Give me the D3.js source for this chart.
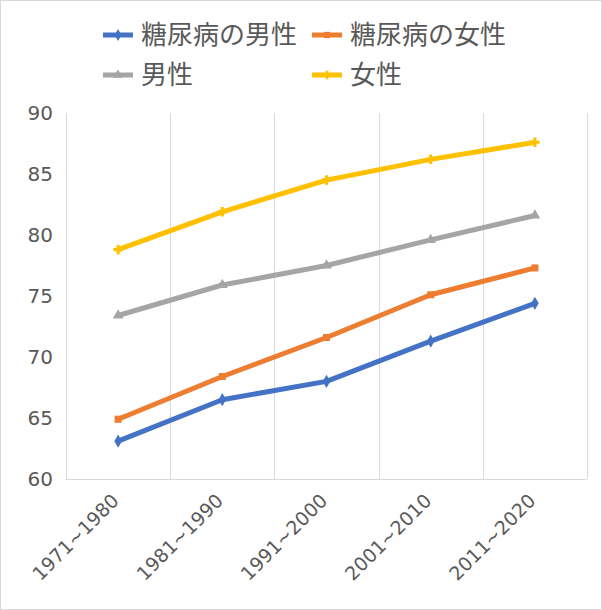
<!DOCTYPE html>
<meta charset="utf-8">
<style>
  body { margin: 0; background: #fff; }
  svg { display: block; }
  text { font-family: "DejaVu Sans", sans-serif; fill: #595959; }
  .jp { font-family: "Noto Sans CJK JP", sans-serif; }
</style>
<body>
<svg width="602" height="610"></svg>
<script src="https://d3js.org/d3.v7.min.js"></script>
<script>
// data
var periods = ["1971~1980", "1981~1990", "1991~2000", "2001~2010", "2011~2020"]
var seriesNames = ["糖尿病の男性", "糖尿病の女性", "男性", "女性"]
var dmMale = [63.1, 66.5, 68.0, 71.3, 74.4]
var dmFemale = [64.9, 68.4, 71.6, 75.1, 77.3]
var male = [73.4, 75.9, 77.5, 79.6, 81.6]
var female = [78.8, 81.9, 84.5, 86.2, 87.6]
var yTicks = [60, 65, 70, 75, 80, 85, 90]

var colors = ["#4472c4", "#ed7d31", "#a5a5a5", "#ffc000"]
var symbols = [d3.symbolDiamond, d3.symbolSquare, d3.symbolTriangle, d3.symbolCross]
var allSeries = [dmMale, dmFemale, male, female]

var svg = d3.select('svg')

// chart border
svg.append('rect')
  .attr('x', 0.5).attr('y', 0.5)
  .attr('width', 601).attr('height', 609)
  .attr('fill', 'none').attr('stroke', '#d9d9d9')

var plotLeft = 66, plotRight = 587, plotTop = 113, plotBottom = 479

var x = d3.scaleBand().domain(periods).range([plotLeft, plotRight])
var y = d3.scaleLinear().domain([60, 90]).range([plotBottom, plotTop])

// vertical gridlines at category boundaries
var g = svg.append('g')
var bounds = periods.map(function (p) { return x(p) + x.bandwidth() }).concat([plotLeft])
g.selectAll('line.grid')
  .data(bounds)
  .enter().append('line')
  .attr('x1', function (d) { return Math.round(d) + 0.5 })
  .attr('x2', function (d) { return Math.round(d) + 0.5 })
  .attr('y1', plotTop).attr('y2', plotBottom)
  .attr('stroke', '#d9d9d9')

// bottom axis line
g.append('line')
  .attr('x1', plotLeft).attr('x2', plotRight)
  .attr('y1', plotBottom + 0.5).attr('y2', plotBottom + 0.5)
  .attr('stroke', '#d9d9d9')

// y tick labels
g.selectAll('text.ytick')
  .data(yTicks)
  .enter().append('text')
  .attr('x', 53)
  .attr('y', function (d) { return y(d) })
  .attr('dy', '0.36em')
  .attr('text-anchor', 'end')
  .attr('font-size', 20)
  .text(function (d) { return d })

// x tick labels, rotated
g.selectAll('text.xtick')
  .data(periods)
  .enter().append('text')
  .attr('transform', function (d) {
    var cx = x(d) + x.bandwidth() / 2
    return 'translate(' + (cx + 2) + ',' + (plotBottom + 23) + ') rotate(-45)'
  })
  .attr('text-anchor', 'end')
  .attr('font-size', 19)
  .text(function (d) { return d })

// lines
var line = d3.line()
  .x(function (d, i) { return x(periods[i]) + x.bandwidth() / 2 })
  .y(function (d) { return y(d) })

allSeries.forEach(function (vals, s) {
  svg.append('path')
    .datum(vals)
    .attr('d', line)
    .attr('fill', 'none')
    .attr('stroke', colors[s])
    .attr('stroke-width', 5)
    .attr('stroke-linejoin', 'round')

  svg.selectAll(null)
    .data(vals)
    .enter().append('path')
    .attr('d', d3.symbol().type(symbols[s]).size(50))
    .attr('transform', function (d, i) {
      return 'translate(' + (x(periods[i]) + x.bandwidth() / 2) + ',' + y(d) + ')'
    })
    .attr('fill', colors[s])
})

// legend
var legendPos = [[103, 35], [312, 35], [103, 75], [312, 75]]
seriesNames.forEach(function (name, s) {
  var lg = svg.append('g').attr('transform', 'translate(' + legendPos[s][0] + ',' + legendPos[s][1] + ')')
  lg.append('line')
    .attr('x1', 0).attr('x2', 30).attr('y1', 0).attr('y2', 0)
    .attr('stroke', colors[s]).attr('stroke-width', 5)
  lg.append('path')
    .attr('d', d3.symbol().type(symbols[s]).size(40))
    .attr('transform', 'translate(15,0)')
    .attr('fill', colors[s])
  lg.append('text')
    .attr('class', 'jp')
    .attr('x', 38)
    .attr('dy', '0.35em')
    .attr('font-size', 26)
    .text(name)
})
</script>
